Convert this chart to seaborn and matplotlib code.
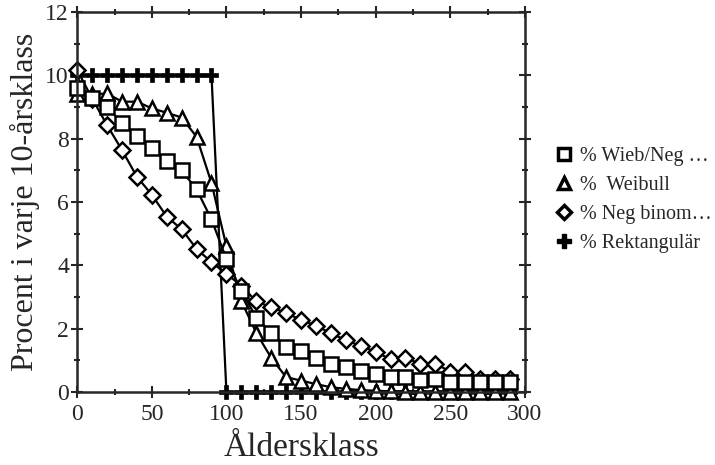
import numpy as np
import pandas as pd
import matplotlib
matplotlib.use('Agg')
import matplotlib.pyplot as plt
import seaborn as sns
from matplotlib.ticker import MultipleLocator
from matplotlib.lines import Line2D

# Age classes (years)
alder = list(range(0, 300, 10))

# % per 10-year class for each model
wieb_neg = [9.6, 9.3, 9.0, 8.5, 8.1, 7.7, 7.3, 7.0, 6.4, 5.45, 4.2, 3.2, 2.35, 1.87, 1.43,
            1.3, 1.06, 0.87, 0.78, 0.65, 0.57, 0.47, 0.46, 0.38, 0.4, 0.33, 0.33, 0.3, 0.3, 0.3]
weibull = [9.4, 9.4, 9.43, 9.17, 9.17, 8.96, 8.82, 8.67, 8.06, 6.6, 4.6, 2.87, 1.87, 1.08, 0.47,
           0.36, 0.25, 0.15, 0.1, 0.06, 0.04, 0.02, 0.01, 0.0, 0.0, 0.0, 0.0, 0.0, 0.0, 0.0]
neg_binom = [10.17, 9.27, 8.43, 7.64, 6.8, 6.23, 5.54, 5.14, 4.52, 4.1, 3.73, 3.36, 2.86, 2.68, 2.5,
             2.27, 2.1, 1.85, 1.64, 1.45, 1.27, 1.03, 1.06, 0.9, 0.9, 0.64, 0.64, 0.4, 0.4, 0.4]
rektangular = [10] * 10 + [0] * 20

series_labels = ['% Wieb/Neg \u2026', '%  Weibull', '% Neg binom\u2026', '% Rektangul\u00e4r']

sns.set_style('ticks')
plt.rcParams['font.family'] = ['Liberation Serif', 'DejaVu Serif']

fig = plt.figure(figsize=(7.15, 4.65), dpi=100)
ax = fig.add_axes([0.108, 0.157, 0.626, 0.817])

'''
Plot data
'''
common = dict(color='black', linewidth=1.6, markersize=9.5, markeredgewidth=1.8,
              clip_on=False)
sns.lineplot(x=alder, y=rektangular, ax=ax, marker='P', markerfacecolor='black',
             markeredgecolor='black', **{**common, 'markersize': 10, 'markeredgewidth': 0.5})
sns.lineplot(x=alder, y=weibull, ax=ax, marker='^', markerfacecolor='white',
             markeredgecolor='black', **common)
sns.lineplot(x=alder, y=neg_binom, ax=ax, marker='D', markerfacecolor='white',
             markeredgecolor='black', **{**common, 'markersize': 8})
sns.lineplot(x=alder, y=wieb_neg, ax=ax, marker='s', markerfacecolor='white',
             markeredgecolor='black', **common)

'''
Format graph
'''
ax.set_xlim(0, 300)
ax.set_ylim(0, 12)
ax.xaxis.set_major_locator(MultipleLocator(50))
ax.xaxis.set_minor_locator(MultipleLocator(25))
ax.yaxis.set_major_locator(MultipleLocator(2))
ax.yaxis.set_minor_locator(MultipleLocator(1))
ax.tick_params(which='both', direction='inout', top=True, right=True, width=1.5,
               labelsize=17)
ax.tick_params(axis='x', pad=5)
ax.tick_params(axis='y', pad=2)
ax.tick_params(which='major', length=8)
ax.tick_params(which='minor', length=5)
ax.tick_params(axis='x', labeltop=False)
ax.tick_params(axis='y', labelright=False)
for sp in ax.spines.values():
    sp.set_linewidth(1.8)
    sp.set_visible(True)

ax.set_xlabel('\u00c5ldersklass', fontsize=24, labelpad=5)
ax.set_ylabel('Procent i varje 10-\u00e5rsklass', fontsize=23, labelpad=4)

# Legend with marker-only handles
handles = [
    Line2D([], [], linestyle='none', marker='s', markersize=9, markerfacecolor='white',
           markeredgecolor='black', markeredgewidth=2.5),
    Line2D([], [], linestyle='none', marker='^', markersize=9, markerfacecolor='white',
           markeredgecolor='black', markeredgewidth=2.5),
    Line2D([], [], linestyle='none', marker='D', markersize=7.5, markerfacecolor='white',
           markeredgecolor='black', markeredgewidth=2.5),
    Line2D([], [], linestyle='none', marker='P', markersize=10, markerfacecolor='black',
           markeredgecolor='black'),
]
fig.legend(handles, series_labels, loc='center left', bbox_to_anchor=(0.765, 0.57),
           frameon=False, fontsize=14.5, handletextpad=0.35, handlelength=0.9,
           labelspacing=0.5, borderaxespad=0)

fig.savefig('out.png', dpi=100)
